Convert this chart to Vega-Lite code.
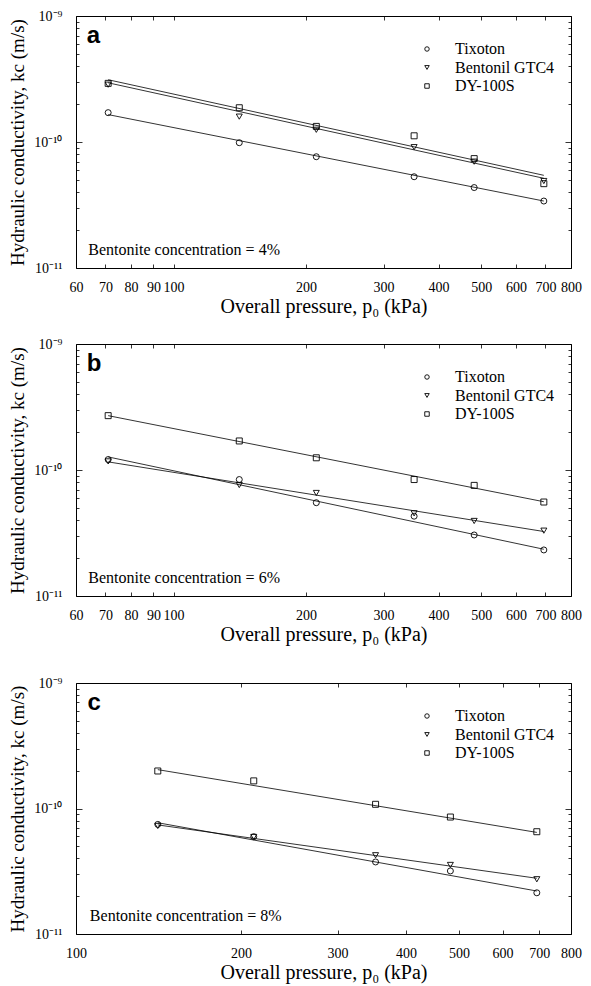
{
  "$schema": "https://vega.github.io/schema/vega-lite/v6.json",
  "background": "white",
  "padding": {"left": 8, "top": 8, "right": 5, "bottom": 2},
  "config": {
    "view": {"stroke": "black", "strokeWidth": 1},
    "axis": {"labelFont": "Liberation Serif", "titleFont": "Liberation Serif", "labelFontSize": 14, "titleFontSize": 19, "titleFontWeight": "normal", "labelColor": "black", "titleColor": "black", "tickColor": "black", "tickWidth": 0.8, "grid": false, "domain": false},
    "legend": {"labelFont": "Liberation Serif", "labelFontSize": 16, "labelColor": "black"}
  },
  "datasets": {
    "points": [
      {"panel": "a", "material": "Tixoton", "p": 71, "k": 1.71e-10},
      {"panel": "a", "material": "Tixoton", "p": 141, "k": 9.87e-11},
      {"panel": "a", "material": "Tixoton", "p": 211, "k": 7.64e-11},
      {"panel": "a", "material": "Tixoton", "p": 352, "k": 5.3e-11},
      {"panel": "a", "material": "Tixoton", "p": 482, "k": 4.35e-11},
      {"panel": "a", "material": "Tixoton", "p": 694, "k": 3.4e-11},
      {"panel": "a", "material": "Bentonil GTC4", "p": 71, "k": 2.85e-10},
      {"panel": "a", "material": "Bentonil GTC4", "p": 141, "k": 1.59e-10},
      {"panel": "a", "material": "Bentonil GTC4", "p": 211, "k": 1.25e-10},
      {"panel": "a", "material": "Bentonil GTC4", "p": 352, "k": 9.1e-11},
      {"panel": "a", "material": "Bentonil GTC4", "p": 482, "k": 6.98e-11},
      {"panel": "a", "material": "Bentonil GTC4", "p": 694, "k": 4.9e-11},
      {"panel": "a", "material": "DY-100S", "p": 71, "k": 2.92e-10},
      {"panel": "a", "material": "DY-100S", "p": 141, "k": 1.87e-10},
      {"panel": "a", "material": "DY-100S", "p": 211, "k": 1.33e-10},
      {"panel": "a", "material": "DY-100S", "p": 352, "k": 1.12e-10},
      {"panel": "a", "material": "DY-100S", "p": 482, "k": 7.38e-11},
      {"panel": "a", "material": "DY-100S", "p": 694, "k": 4.67e-11},
      {"panel": "b", "material": "Tixoton", "p": 71, "k": 1.21e-10},
      {"panel": "b", "material": "Tixoton", "p": 141, "k": 8.4e-11},
      {"panel": "b", "material": "Tixoton", "p": 211, "k": 5.5e-11},
      {"panel": "b", "material": "Tixoton", "p": 352, "k": 4.3e-11},
      {"panel": "b", "material": "Tixoton", "p": 482, "k": 3.05e-11},
      {"panel": "b", "material": "Tixoton", "p": 694, "k": 2.32e-11},
      {"panel": "b", "material": "Bentonil GTC4", "p": 71, "k": 1.17e-10},
      {"panel": "b", "material": "Bentonil GTC4", "p": 141, "k": 7.6e-11},
      {"panel": "b", "material": "Bentonil GTC4", "p": 211, "k": 6.57e-11},
      {"panel": "b", "material": "Bentonil GTC4", "p": 352, "k": 4.53e-11},
      {"panel": "b", "material": "Bentonil GTC4", "p": 482, "k": 3.94e-11},
      {"panel": "b", "material": "Bentonil GTC4", "p": 694, "k": 3.3e-11},
      {"panel": "b", "material": "DY-100S", "p": 71, "k": 2.7e-10},
      {"panel": "b", "material": "DY-100S", "p": 141, "k": 1.7e-10},
      {"panel": "b", "material": "DY-100S", "p": 211, "k": 1.25e-10},
      {"panel": "b", "material": "DY-100S", "p": 352, "k": 8.4e-11},
      {"panel": "b", "material": "DY-100S", "p": 482, "k": 7.55e-11},
      {"panel": "b", "material": "DY-100S", "p": 694, "k": 5.57e-11},
      {"panel": "c", "material": "Tixoton", "p": 141, "k": 7.47e-11},
      {"panel": "c", "material": "Tixoton", "p": 211, "k": 5.96e-11},
      {"panel": "c", "material": "Tixoton", "p": 352, "k": 3.75e-11},
      {"panel": "c", "material": "Tixoton", "p": 482, "k": 3.18e-11},
      {"panel": "c", "material": "Tixoton", "p": 693, "k": 2.13e-11},
      {"panel": "c", "material": "Bentonil GTC4", "p": 141, "k": 7.26e-11},
      {"panel": "c", "material": "Bentonil GTC4", "p": 211, "k": 5.93e-11},
      {"panel": "c", "material": "Bentonil GTC4", "p": 352, "k": 4.24e-11},
      {"panel": "c", "material": "Bentonil GTC4", "p": 482, "k": 3.55e-11},
      {"panel": "c", "material": "Bentonil GTC4", "p": 693, "k": 2.73e-11},
      {"panel": "c", "material": "DY-100S", "p": 141, "k": 1.99e-10},
      {"panel": "c", "material": "DY-100S", "p": 211, "k": 1.66e-10},
      {"panel": "c", "material": "DY-100S", "p": 352, "k": 1.08e-10},
      {"panel": "c", "material": "DY-100S", "p": 482, "k": 8.55e-11},
      {"panel": "c", "material": "DY-100S", "p": 693, "k": 6.53e-11}
    ],
    "fits": [
      {"panel": "a", "material": "Tixoton", "p": 71, "k": 1.65e-10},
      {"panel": "a", "material": "Tixoton", "p": 694, "k": 3.4e-11},
      {"panel": "a", "material": "Bentonil GTC4", "p": 71, "k": 2.95e-10},
      {"panel": "a", "material": "Bentonil GTC4", "p": 694, "k": 5.15e-11},
      {"panel": "a", "material": "DY-100S", "p": 71, "k": 3.12e-10},
      {"panel": "a", "material": "DY-100S", "p": 694, "k": 5.44e-11},
      {"panel": "b", "material": "Tixoton", "p": 71, "k": 1.27e-10},
      {"panel": "b", "material": "Tixoton", "p": 694, "k": 2.35e-11},
      {"panel": "b", "material": "Bentonil GTC4", "p": 71, "k": 1.16e-10},
      {"panel": "b", "material": "Bentonil GTC4", "p": 694, "k": 3.25e-11},
      {"panel": "b", "material": "DY-100S", "p": 71, "k": 2.7e-10},
      {"panel": "b", "material": "DY-100S", "p": 694, "k": 5.6e-11},
      {"panel": "c", "material": "Tixoton", "p": 141, "k": 7.7e-11},
      {"panel": "c", "material": "Tixoton", "p": 693, "k": 2.2e-11},
      {"panel": "c", "material": "Bentonil GTC4", "p": 141, "k": 7.4e-11},
      {"panel": "c", "material": "Bentonil GTC4", "p": 693, "k": 2.78e-11},
      {"panel": "c", "material": "DY-100S", "p": 141, "k": 2.04e-10},
      {"panel": "c", "material": "DY-100S", "p": 693, "k": 6.45e-11}
    ],
    "notes": [
      {"panel": "a", "letter": "a", "note": "Bentonite concentration = 4%"},
      {"panel": "b", "letter": "b", "note": "Bentonite concentration = 6%"},
      {"panel": "c", "letter": "c", "note": "Bentonite concentration = 8%"}
    ]
  },
  "resolve": {"scale": {"shape": "independent"}, "legend": {"shape": "independent"}},
  "spacing": 30,
  "vconcat": [
    {
      "spacing": 19,
      "resolve": {"scale": {"shape": "independent"}, "legend": {"shape": "independent"}},
      "vconcat": [
        {
          "width": 495, "height": 252,
          "layer": [
            {
              "data": {"name": "fits"},
              "transform": [{"filter": "datum.panel === 'a'"}],
              "mark": {"type": "line", "color": "black", "strokeWidth": 0.8},
              "encoding": {
                "x": {"field": "p", "type": "quantitative", "scale": {"type": "log", "domain": [60, 800], "nice": false},
                  "axis": {"orient": "bottom", "values": [60, 70, 80, 90, 100, 200, 300, 400, 500, 600, 700, 800], "format": "d", "labelOverlap": false, "labelFlush": false, "tickSize": -4, "labelPadding": 16, "title": "Overall pressure, p₀ (kPa)", "titleFontSize": 20, "titlePadding": 2}},
                "y": {"field": "k", "type": "quantitative", "scale": {"type": "log", "domain": [1e-11, 1e-9], "nice": false},
                  "axis": {"orient": "left", "values": [1e-11, 2e-11, 3e-11, 4e-11, 5e-11, 6e-11, 7e-11, 8e-11, 9e-11, 1e-10, 2e-10, 3e-10, 4e-10, 5e-10, 6e-10, 7e-10, 8e-10, 9e-10, 1e-9],
                    "labelExpr": "datum.value === 1e-9 ? '10⁻⁹' : datum.value === 1e-10 ? '10⁻¹⁰' : datum.value === 1e-11 ? '10⁻¹¹' : ''",
                    "labelOverlap": false, "labelFlush": false,
                    "tickSize": {"condition": {"test": "datum.value === 1e-9 || datum.value === 1e-10 || datum.value === 1e-11", "value": -6}, "value": -3},
                    "labelPadding": 20, "title": "Hydraulic conductivity, kc (m/s)", "titlePadding": 6}},
                "detail": {"field": "material", "type": "nominal"}
              }
            },
            {
              "data": {"name": "points"},
              "transform": [{"filter": "datum.panel === 'a'"}],
              "mark": {"type": "point", "filled": false, "color": "black", "strokeWidth": 0.9, "size": 36, "opacity": 1},
              "encoding": {
                "x": {"field": "p", "type": "quantitative", "scale": {"type": "log", "domain": [60, 800], "nice": false},
                  "axis": {"orient": "top", "values": [60, 70, 80, 90, 100, 200, 300, 400, 500, 600, 700, 800], "labels": false, "tickSize": -4, "title": null}},
                "y": {"field": "k", "type": "quantitative", "scale": {"type": "log", "domain": [1e-11, 1e-9], "nice": false},
                  "axis": {"orient": "right", "values": [1e-11, 2e-11, 3e-11, 4e-11, 5e-11, 6e-11, 7e-11, 8e-11, 9e-11, 1e-10, 2e-10, 3e-10, 4e-10, 5e-10, 6e-10, 7e-10, 8e-10, 9e-10, 1e-9],
                    "labels": false, "title": null,
                    "tickSize": {"condition": {"test": "datum.value === 1e-9 || datum.value === 1e-10 || datum.value === 1e-11", "value": -6}, "value": -3}}},
                "shape": {"field": "material", "type": "nominal",
                  "scale": {"domain": ["Tixoton", "Bentonil GTC4", "DY-100S"], "range": ["circle", "triangle-down", "square"]},
                  "legend": {"title": null, "orient": "none", "legendX": 343, "legendY": 25, "padding": 0, "symbolSize": 20, "symbolStrokeWidth": 0.9, "symbolStrokeColor": "black", "symbolFillColor": "transparent", "labelOffset": 20, "rowPadding": 2.5}}
              }
            },
            {
              "data": {"name": "notes"},
              "transform": [{"filter": "datum.panel === 'a'"}],
              "mark": {"type": "text", "font": "Liberation Serif", "fontSize": 16, "align": "left", "baseline": "alphabetic", "color": "black"},
              "encoding": {
                "x": {"datum": 64, "type": "quantitative", "axis": null},
                "y": {"datum": 1.27e-11, "type": "quantitative", "axis": null},
                "text": {"field": "note"}
              }
            },
            {
              "data": {"name": "notes"},
              "transform": [{"filter": "datum.panel === 'a'"}],
              "mark": {"type": "text", "font": "Liberation Sans", "fontSize": 24, "fontWeight": "bold", "align": "left", "baseline": "alphabetic", "color": "black"},
              "encoding": {
                "x": {"datum": 63.5, "type": "quantitative", "axis": null},
                "y": {"datum": 6.1e-10, "type": "quantitative", "axis": null},
                "text": {"field": "letter"}
              }
            }
          ]
        },
        {
          "width": 495, "height": 252,
          "layer": [
            {
              "data": {"name": "fits"},
              "transform": [{"filter": "datum.panel === 'b'"}],
              "mark": {"type": "line", "color": "black", "strokeWidth": 0.8},
              "encoding": {
                "x": {"field": "p", "type": "quantitative", "scale": {"type": "log", "domain": [60, 800], "nice": false},
                  "axis": {"orient": "bottom", "values": [60, 70, 80, 90, 100, 200, 300, 400, 500, 600, 700, 800], "format": "d", "labelOverlap": false, "labelFlush": false, "tickSize": -4, "labelPadding": 16, "title": "Overall pressure, p₀ (kPa)", "titleFontSize": 20, "titlePadding": 2}},
                "y": {"field": "k", "type": "quantitative", "scale": {"type": "log", "domain": [1e-11, 1e-9], "nice": false},
                  "axis": {"orient": "left", "values": [1e-11, 2e-11, 3e-11, 4e-11, 5e-11, 6e-11, 7e-11, 8e-11, 9e-11, 1e-10, 2e-10, 3e-10, 4e-10, 5e-10, 6e-10, 7e-10, 8e-10, 9e-10, 1e-9],
                    "labelExpr": "datum.value === 1e-9 ? '10⁻⁹' : datum.value === 1e-10 ? '10⁻¹⁰' : datum.value === 1e-11 ? '10⁻¹¹' : ''",
                    "labelOverlap": false, "labelFlush": false,
                    "tickSize": {"condition": {"test": "datum.value === 1e-9 || datum.value === 1e-10 || datum.value === 1e-11", "value": -6}, "value": -3},
                    "labelPadding": 20, "title": "Hydraulic conductivity, kc (m/s)", "titlePadding": 6}},
                "detail": {"field": "material", "type": "nominal"}
              }
            },
            {
              "data": {"name": "points"},
              "transform": [{"filter": "datum.panel === 'b'"}],
              "mark": {"type": "point", "filled": false, "color": "black", "strokeWidth": 0.9, "size": 36, "opacity": 1},
              "encoding": {
                "x": {"field": "p", "type": "quantitative", "scale": {"type": "log", "domain": [60, 800], "nice": false},
                  "axis": {"orient": "top", "values": [60, 70, 80, 90, 100, 200, 300, 400, 500, 600, 700, 800], "labels": false, "tickSize": -4, "title": null}},
                "y": {"field": "k", "type": "quantitative", "scale": {"type": "log", "domain": [1e-11, 1e-9], "nice": false},
                  "axis": {"orient": "right", "values": [1e-11, 2e-11, 3e-11, 4e-11, 5e-11, 6e-11, 7e-11, 8e-11, 9e-11, 1e-10, 2e-10, 3e-10, 4e-10, 5e-10, 6e-10, 7e-10, 8e-10, 9e-10, 1e-9],
                    "labels": false, "title": null,
                    "tickSize": {"condition": {"test": "datum.value === 1e-9 || datum.value === 1e-10 || datum.value === 1e-11", "value": -6}, "value": -3}}},
                "shape": {"field": "material", "type": "nominal",
                  "scale": {"domain": ["Tixoton", "Bentonil GTC4", "DY-100S"], "range": ["circle", "triangle-down", "square"]},
                  "legend": {"title": null, "orient": "none", "legendX": 343, "legendY": 25, "padding": 0, "symbolSize": 20, "symbolStrokeWidth": 0.9, "symbolStrokeColor": "black", "symbolFillColor": "transparent", "labelOffset": 20, "rowPadding": 2.5}}
              }
            },
            {
              "data": {"name": "notes"},
              "transform": [{"filter": "datum.panel === 'b'"}],
              "mark": {"type": "text", "font": "Liberation Serif", "fontSize": 16, "align": "left", "baseline": "alphabetic", "color": "black"},
              "encoding": {
                "x": {"datum": 64, "type": "quantitative", "axis": null},
                "y": {"datum": 1.27e-11, "type": "quantitative", "axis": null},
                "text": {"field": "note"}
              }
            },
            {
              "data": {"name": "notes"},
              "transform": [{"filter": "datum.panel === 'b'"}],
              "mark": {"type": "text", "font": "Liberation Sans", "fontSize": 24, "fontWeight": "bold", "align": "left", "baseline": "alphabetic", "color": "black"},
              "encoding": {
                "x": {"datum": 63.5, "type": "quantitative", "axis": null},
                "y": {"datum": 6.1e-10, "type": "quantitative", "axis": null},
                "text": {"field": "letter"}
              }
            }
          ]
        }
      ]
    },
    {
      "width": 495, "height": 251,
      "layer": [
        {
          "data": {"name": "fits"},
          "transform": [{"filter": "datum.panel === 'c'"}],
          "mark": {"type": "line", "color": "black", "strokeWidth": 0.8},
          "encoding": {
            "x": {"field": "p", "type": "quantitative", "scale": {"type": "log", "domain": [100, 800], "nice": false},
              "axis": {"orient": "bottom", "values": [100, 200, 300, 400, 500, 600, 700, 800], "format": "d", "labelOverlap": false, "labelFlush": false, "tickSize": -4, "labelPadding": 16, "title": "Overall pressure, p₀ (kPa)", "titleFontSize": 20, "titlePadding": 2}},
            "y": {"field": "k", "type": "quantitative", "scale": {"type": "log", "domain": [1e-11, 1e-9], "nice": false},
              "axis": {"orient": "left", "values": [1e-11, 2e-11, 3e-11, 4e-11, 5e-11, 6e-11, 7e-11, 8e-11, 9e-11, 1e-10, 2e-10, 3e-10, 4e-10, 5e-10, 6e-10, 7e-10, 8e-10, 9e-10, 1e-9],
                "labelExpr": "datum.value === 1e-9 ? '10⁻⁹' : datum.value === 1e-10 ? '10⁻¹⁰' : datum.value === 1e-11 ? '10⁻¹¹' : ''",
                "labelOverlap": false, "labelFlush": false,
                "tickSize": {"condition": {"test": "datum.value === 1e-9 || datum.value === 1e-10 || datum.value === 1e-11", "value": -6}, "value": -3},
                "labelPadding": 20, "title": "Hydraulic conductivity, kc (m/s)", "titlePadding": 6}},
            "detail": {"field": "material", "type": "nominal"}
          }
        },
        {
          "data": {"name": "points"},
          "transform": [{"filter": "datum.panel === 'c'"}],
          "mark": {"type": "point", "filled": false, "color": "black", "strokeWidth": 0.9, "size": 36, "opacity": 1},
          "encoding": {
            "x": {"field": "p", "type": "quantitative", "scale": {"type": "log", "domain": [100, 800], "nice": false},
              "axis": {"orient": "top", "values": [100, 200, 300, 400, 500, 600, 700, 800], "labels": false, "tickSize": -4, "title": null}},
            "y": {"field": "k", "type": "quantitative", "scale": {"type": "log", "domain": [1e-11, 1e-9], "nice": false},
              "axis": {"orient": "right", "values": [1e-11, 2e-11, 3e-11, 4e-11, 5e-11, 6e-11, 7e-11, 8e-11, 9e-11, 1e-10, 2e-10, 3e-10, 4e-10, 5e-10, 6e-10, 7e-10, 8e-10, 9e-10, 1e-9],
                "labels": false, "title": null,
                "tickSize": {"condition": {"test": "datum.value === 1e-9 || datum.value === 1e-10 || datum.value === 1e-11", "value": -6}, "value": -3}}},
            "shape": {"field": "material", "type": "nominal",
              "scale": {"domain": ["Tixoton", "Bentonil GTC4", "DY-100S"], "range": ["circle", "triangle-down", "square"]},
              "legend": {"title": null, "orient": "none", "legendX": 343, "legendY": 25, "padding": 0, "symbolSize": 20, "symbolStrokeWidth": 0.9, "symbolStrokeColor": "black", "symbolFillColor": "transparent", "labelOffset": 20, "rowPadding": 2.5}}
          }
        },
        {
          "data": {"name": "notes"},
          "transform": [{"filter": "datum.panel === 'c'"}],
          "mark": {"type": "text", "font": "Liberation Serif", "fontSize": 16, "align": "left", "baseline": "alphabetic", "color": "black"},
          "encoding": {
            "x": {"datum": 106, "type": "quantitative", "axis": null},
            "y": {"datum": 1.27e-11, "type": "quantitative", "axis": null},
            "text": {"field": "note"}
          }
        },
        {
          "data": {"name": "notes"},
          "transform": [{"filter": "datum.panel === 'c'"}],
          "mark": {"type": "text", "font": "Liberation Sans", "fontSize": 24, "fontWeight": "bold", "align": "left", "baseline": "alphabetic", "color": "black"},
          "encoding": {
            "x": {"datum": 105, "type": "quantitative", "axis": null},
            "y": {"datum": 6.1e-10, "type": "quantitative", "axis": null},
            "text": {"field": "letter"}
          }
        }
      ]
    }
  ]
}
